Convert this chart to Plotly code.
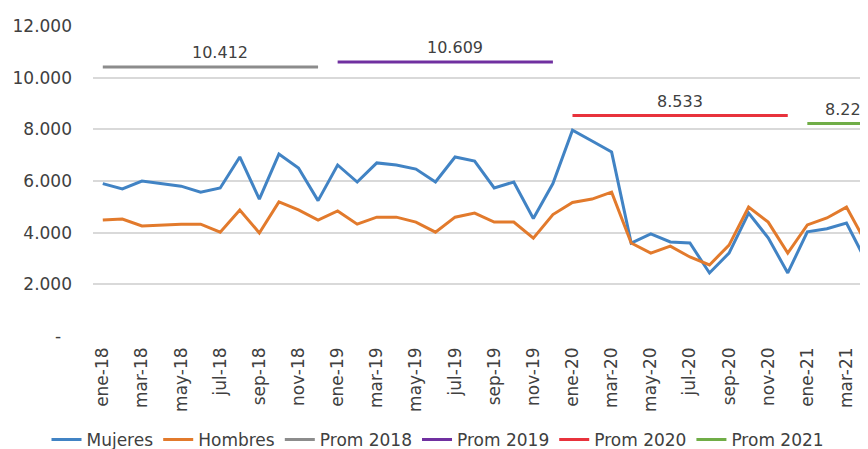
import plotly.graph_objects as go

months = ["ene", "feb", "mar", "abr", "may", "jun", "jul", "ago", "sep", "oct", "nov", "dic"]
years = ["18", "19", "20", "21"]
categories = [f"{m}-{y}" for y in years for m in months][:40]

mujeres = [5900, 5690, 6000, 5900, 5800, 5570, 5730, 6930, 5300, 7040, 6500, 5240,
           6620, 5960, 6700, 6620, 6460, 5960, 6930, 6770, 5730, 5960, 4550, 5900,
           7970, 7550, 7120, 3600, 3950, 3640, 3600, 2440, 3210, 4760, 3800, 2440,
           4030, 4150, 4370, 2900]
hombres = [4490, 4530, 4260, 4300, 4330, 4330, 4020, 4880, 3990, 5190, 4880, 4490,
           4840, 4330, 4600, 4600, 4410, 4020, 4600, 4760, 4410, 4410, 3790, 4700,
           5170, 5300, 5570, 3600, 3210, 3480, 3060, 2750, 3520, 4990, 4410, 3210,
           4300, 4570, 4990, 3600]

prom_names = ["Prom 2018", "Prom 2019", "Prom 2020", "Prom 2021"]
prom_values = [10412, 10609, 8533, 8223]
prom_labels = ["10.412", "10.609", "8.533", "8.223"]
prom_label_pos = [6, 18, 29.5, 38]
prom_colors = ["#8c8c8c", "#7030a0", "#e8323c", "#70ad47"]

ytick_vals = [0, 2000, 4000, 6000, 8000, 10000, 12000]
ytick_text = ["-\u00a0\u00a0", "2.000", "4.000", "6.000", "8.000", "10.000", "12.000"]
xtick_vals = categories[::2]

fig = go.Figure()
fig.add_trace(go.Scatter(x=categories, y=mujeres, name="Mujeres", mode="lines",
                         line=dict(color="#4183c4", width=3)))
fig.add_trace(go.Scatter(x=categories, y=hombres, name="Hombres", mode="lines",
                         line=dict(color="#e27a2c", width=3)))

for i, (nm, val, col) in enumerate(zip(prom_names, prom_values, prom_colors)):
    ys = [val if k // 12 == i else None for k in range(len(categories))]
    fig.add_trace(go.Scatter(x=categories, y=ys, name=nm, mode="lines",
                             line=dict(color=col, width=3)))
    fig.add_annotation(x=prom_label_pos[i], y=val, text=prom_labels[i],
                       showarrow=False, yanchor="bottom", yshift=3,
                       xanchor="left" if i == 3 else "center",
                       xshift=-23 if i == 3 else 0,
                       font=dict(size=16, color="#404040", family="DejaVu Sans"))

fig.update_layout(
    width=860, height=441,
    margin=dict(l=85, r=0, t=18, b=113, autoexpand=False),
    plot_bgcolor="white", paper_bgcolor="white",
    font=dict(family="DejaVu Sans", size=16, color="#404040"),
    showlegend=True,
    legend=dict(orientation="h", x=-0.06, xanchor="left",
                y=-0.335, yanchor="middle", bgcolor="rgba(0,0,0,0)",
                font=dict(size=17, color="#404040"), tracegroupgap=0),
)
fig.update_xaxes(type="category", range=[-0.5, 39.1], tickvals=xtick_vals,
                 ticktext=xtick_vals, tickangle=-90, showgrid=False,
                 showline=False, ticks="", automargin=False,
                 ticklabelstandoff=7, tickfont=dict(size=17))
fig.update_yaxes(range=[0, 12000], tickvals=ytick_vals, ticktext=ytick_text,
                 showgrid=True, gridcolor="#d9d9d9", gridwidth=1.5,
                 zeroline=False, showline=False, ticks="", automargin=False,
                 ticklabelstandoff=20, tickfont=dict(size=17, family="DejaVu Sans"))

fig.write_html("out.html")
